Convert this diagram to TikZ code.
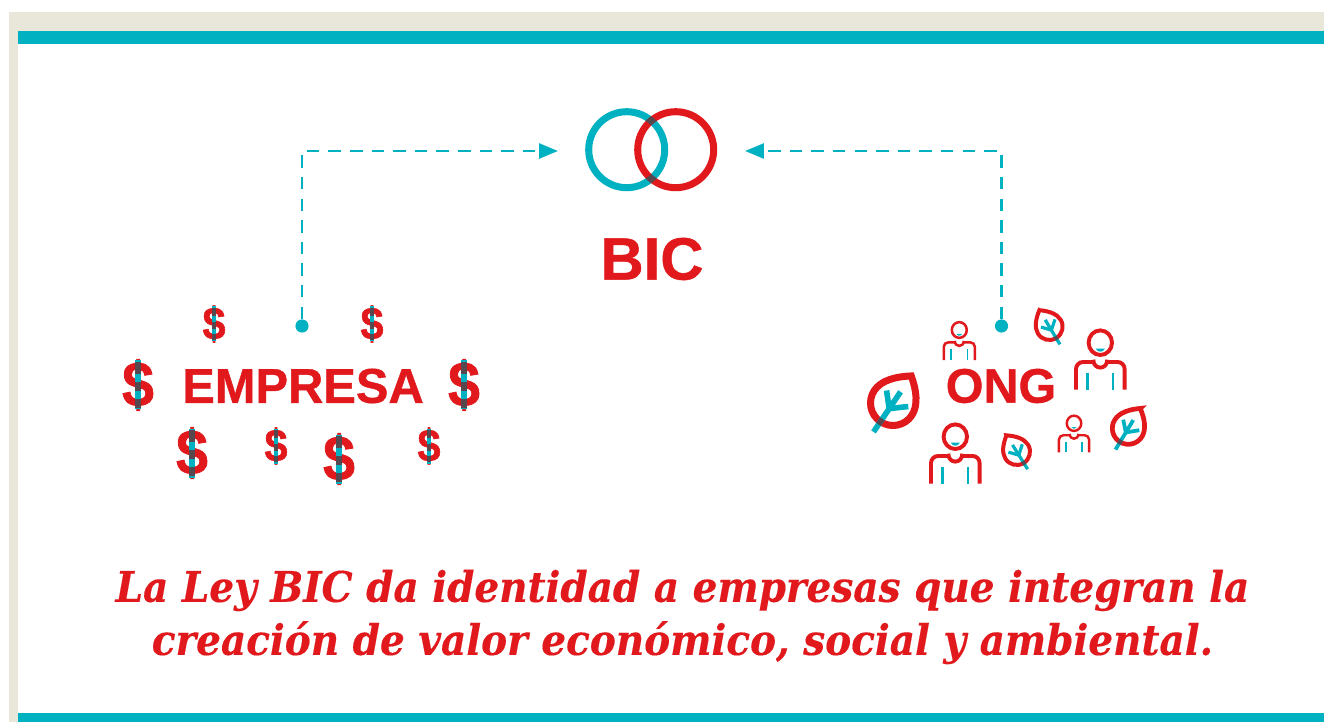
\documentclass[tikz,border=0pt]{standalone}
\usepackage{fontspec}
\setmainfont{Liberation Sans}
\newfontfamily\titulofont[FakeBold=0.8]{Liberation Sans}
\newfontfamily\lemafont[FakeStretch=0.925,FakeBold=0.3]{DejaVu Serif}
\newfontfamily\dolarfont[FakeStretch=0.9,FakeBold=1.2]{Liberation Sans}
\usetikzlibrary{arrows.meta}

\definecolor{turquesa}{HTML}{00B1C1}
\definecolor{rojo}{HTML}{E1191C}
\definecolor{beige}{HTML}{E9E6DA}
\definecolor{cruce}{HTML}{574850}

\tikzset{
  titulo/.style={text=rojo, font=\titulofont\bfseries\fontsize{#1}{#1}\selectfont, inner sep=0pt},
  punto/.style={circle, fill=turquesa, inner sep=0pt, minimum size=7.5pt},
  guia/.style={draw=turquesa, line width=1.6pt, dash pattern=on 7.1pt off 5.2pt,
    -{Triangle[length=10.8pt,width=8.5pt]}},
}

\begin{document}
\begin{tikzpicture}[x=0.02cm,y=-0.02cm]
% #1 x, #2 y, #3 tamano de letra, #4 ancho de la barra, #5 alto
\def\dolar(#1,#2)[#3][#4][#5]{
  \node[text=rojo, inner sep=0pt, font=\dolarfont\bfseries\fontsize{#3}{#3}\selectfont] at (#1,#2) {\$};
  \draw[turquesa, line width=#4*0.569pt] (#1,#2-#5*0.5) -- (#1,#2+#5*0.5);
  \draw[cruce, line width=#4*0.569pt] (#1,#2-#5*0.46) -- (#1,#2-#5*0.22);
  \draw[cruce, line width=#4*0.569pt] (#1,#2-#5*0.06) -- (#1,#2+#5*0.13);
  \draw[cruce, line width=#4*0.569pt] (#1,#2+#5*0.29) -- (#1,#2+#5*0.46);
}
% #1 x, #2 y, #3 radio, #4 giro, #5 grosor
\def\hoja(#1,#2)[#3][#4][#5]{
  \begin{scope}[shift={(#1,#2)}, rotate=#4, x=#3*0.02cm, y=#3*0.02cm]
    \draw[rojo, line width=#5*0.569pt, miter limit=10]
      (0,1.45) .. controls (-0.55,1.05) and (-1,0.55) .. (-1,0)
      arc[start angle=180, end angle=360, radius=1]
      .. controls (1,0.55) and (0.55,1.05) .. cycle;
    \draw[turquesa, line width=#5*0.8*0.569pt] (0,-1.55) -- (0,0.6);
    \draw[turquesa, line width=#5*0.8*0.569pt] (-0.55,0.3) -- (0,-0.3) -- (0.65,0.25);
    \draw[cruce, line width=#5*0.8*0.569pt] (0,-1.15) -- (0,-0.85);
  \end{scope}
}
% #1 x, #2 y, #3 escala
\def\persona(#1,#2)[#3]{
  \begin{scope}[shift={(#1,#2)}, x=#3*0.02cm, y=#3*0.02cm]
    \draw[rojo, line width=#3*3.9*0.569pt] (0,0) ellipse[x radius=11.7, y radius=12.3];
    \draw[rojo, line width=#3*3.9*0.569pt, rounded corners=#3*4pt] (-24.3,-47) -- (-24.3,-19.3) -- (24.3,-19.3) -- (24.3,-47);
    \draw[rojo, line width=#3*3.9*0.569pt, fill=white] (-7,-17) .. controls (-7,-27.5) and (7,-27.5) .. (7,-17);
    \fill[turquesa] (-4.5,-6) -- (4.5,-6) .. controls (3,-10) and (-3,-10) .. (-4.5,-6) -- cycle;
    \draw[turquesa, line width=#3*2.7*0.569pt] (-12.7,-30) -- (-12.7,-47);
    \draw[turquesa, line width=#3*2.7*0.569pt] (12.7,-30) -- (12.7,-47);
  \end{scope}
}

\useasboundingbox (0,0) rectangle (1324,722);
\fill[beige] (9,12) rectangle (1324,722);
\fill[white] (18,44) rectangle (1324,713);
\fill[turquesa] (18,31) rectangle (1324,44);
\fill[turquesa] (18,713) rectangle (1324,722);

% anillos
\draw[turquesa, line width=4pt] (626.7,149.7) circle[radius=38];
\draw[rojo, line width=4pt] (675.7,149.7) circle[radius=38];
\begin{scope}[even odd rule]
  \clip (626.7,149.7) circle[radius=41.5] (626.7,149.7) circle[radius=34.5];
  \draw[cruce, line width=4pt] (675.7,149.7) circle[radius=38];
\end{scope}
\coordinate (entradaE) at (558,151);
\coordinate (entradaO) at (745,151);

\node[titulo=34pt] (bic) at (652,259) {BIC};
\node[titulo=27.8pt] (empresa) at (303,386) {EMPRESA};
\node[titulo=27.6pt] (ong) at (1001,386) {ONG};

\node[punto] (puntoE) at (302,326) {};
\node[punto] (puntoO) at (1001.5,326) {};
\draw[guia] (puntoE) |- (entradaE);
\draw[guia] (puntoO) |- (entradaO);

\dolar(214,324)[26][4][35]
\dolar(372,324)[26][4][35]
\dolar(276,446)[26][4][35]
\dolar(429,446)[26][4][35]
\dolar(138,385)[36][6][49]
\dolar(464,385)[36][6][49]
\dolar(192,453)[36][6][49]
\dolar(339,459)[36][6][49]

\hoja(893,403)[22.5][-34][7]
\hoja(1049.3,326.7)[13.3][31][4]
\hoja(1016.7,451.7)[13.3][32][4]
\hoja(1128.3,428.3)[16][-31][4.7]

\persona(1100.3,342.7)[1]
\persona(955.3,436.7)[1]
\persona(959.3,330)[0.64]
\persona(1074,423.3)[0.62]

\node[text=rojo, inner sep=0pt, align=center, font=\lemafont\bfseries\itshape\fontsize{24pt}{30.2pt}\selectfont] (lema) at (682.5,617)
  {La Ley BIC da identidad a empresas que integran la\\creación de valor económico, social y ambiental.};
\end{tikzpicture}
\end{document}
